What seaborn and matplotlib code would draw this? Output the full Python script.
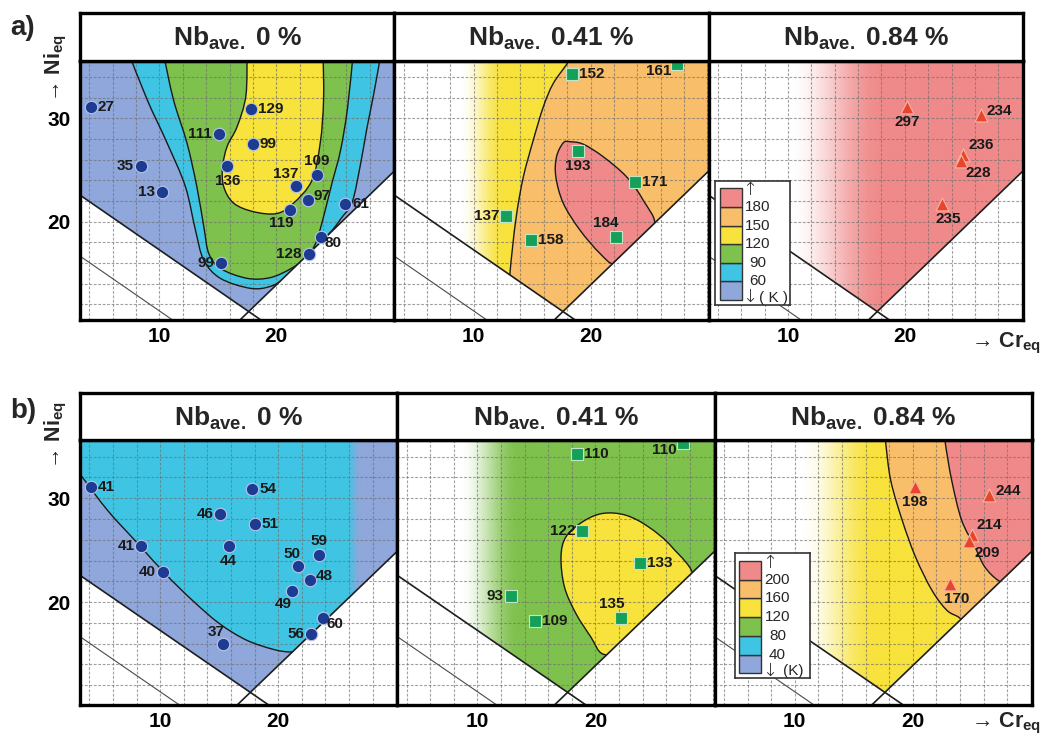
import numpy as np
import matplotlib
matplotlib.use("Agg")
import matplotlib.pyplot as plt
import seaborn as sns
from matplotlib.path import Path
from matplotlib.patches import PathPatch, Polygon
from matplotlib.ticker import MultipleLocator
from matplotlib.colors import to_rgb

sns.set_style("white")
plt.rcParams["font.family"] = ["Liberation Sans", "DejaVu Sans"]
plt.rcParams["mathtext.fontset"] = "custom"
plt.rcParams["mathtext.rm"] = "Liberation Sans"
plt.rcParams["mathtext.bf"] = "Liberation Sans:bold"
plt.rcParams["mathtext.it"] = "Liberation Sans:italic"

# ---------------- data ----------------
titles = [r"Nb$_{\mathbf{ave.}}$ 0 %", r"Nb$_{\mathbf{ave.}}$ 0.41 %", r"Nb$_{\mathbf{ave.}}$ 0.84 %"]
xtick_vals = [10, 20]
ytick_vals = [20, 30]

# alloy compositions (Cr_eq, Ni_eq) for each Nb level
cr_nb0 = [4.1, 8.4, 10.2, 15.1, 17.8, 18.0, 15.8, 21.7, 23.5, 22.7, 21.2, 25.9, 23.8, 22.8, 15.3]
ni_nb0 = [31.1, 25.4, 22.9, 28.5, 30.9, 27.5, 25.4, 23.5, 24.5, 22.1, 21.1, 21.7, 18.5, 16.9, 16.0]
cr_nb041 = [18.4, 27.4, 18.9, 23.8, 12.8, 14.9, 22.2]
ni_nb041 = [34.3, 35.3, 26.8, 23.8, 20.6, 18.2, 18.5]
cr_nb084 = [20.2, 26.5, 25.0, 24.8, 23.2]
ni_nb084 = [31.1, 30.3, 26.5, 25.9, 21.7]

# temperatures (K) written next to the points, a) and b)
temp_a_nb0 = [27, 35, 13, 111, 129, 99, 136, 137, 109, 97, 119, 61, 80, 128, 99]
temp_b_nb0 = [41, 41, 40, 46, 54, 51, 44, 50, 59, 48, 49, None, 60, 56, 37]
temp_a_nb041 = [152, 161, 193, 171, 137, 158, 184]
temp_b_nb041 = [110, 110, 122, 133, 93, 109, 135]
temp_a_nb084 = [297, 234, 236, 228, 235]
temp_b_nb084 = [198, 244, 214, 209, 170]

# colour scale levels (K), top to bottom
levels_a = [180, 150, 120, 90, 60]
levels_b = [200, 160, 120, 80, 40]

# straight phase boundaries: point on line and slope
line_x0 = [3.3, 3.3, 17.35]
line_y0 = [22.5, 16.6, 11.0]
line_slope = [-0.78, -0.78, 1.09]

# contour outlines (Cr_eq, Ni_eq)
cyan_a0 = [(7.3, 36.5), (8.95, 31.8), (10.66, 27.6), (12.22, 23.4), (13.08, 19.2), (13.79, 16.3),
           (15.21, 14.53), (17.78, 13.56), (19.5, 13.75), (20.8, 14.6), (22.2, 16.1), (23.5, 17.6),
           (24.8, 19.2), (25.6, 20.4), (26.5, 21.9), (27.2, 25.5), (27.75, 29.0), (28.3, 32.1), (29.0, 36.5)]
green_a0 = [(10.3, 36.5), (11.2, 31.8), (12.36, 27.6), (13.2, 23.4), (13.8, 19.5), (14.22, 16.94),
            (15.21, 15.49), (17.49, 14.53), (19.5, 14.6), (21.3, 15.5), (22.6, 16.6), (23.4, 18.0),
            (24.05, 20.5), (24.76, 23.7), (25.5, 26.9), (26.1, 31.0), (26.6, 36.5)]
yellow_a0 = [(17.5, 36.5), (17.4, 32.2), (16.65, 29.2), (15.8, 27.3), (15.4, 25.3), (15.5, 23.4),
             (16.35, 21.8), (18.06, 20.97), (20.06, 20.8), (21.48, 21.8), (23.05, 24.0), (23.76, 27.6),
             (24.05, 31.8), (24.0, 36.5)]
orange_a41 = [(18.3, 36.5), (18.09, 35.47), (16.81, 33.38), (15.96, 31.12), (15.1, 27.9), (14.25, 24.35),
              (13.68, 20.8), (13.33, 17.58), (13.1, 15.0), (13.0, 13.5)]
red_a41 = [(17.67, 27.64), (17.09, 26.29), (17.03, 24.35), (17.67, 21.78), (19.09, 19.2), (20.8, 16.94),
           (22.08, 15.9), (23.8, 17.0), (25.5, 19.6), (24.5, 22.1), (23.08, 24.35), (21.08, 26.29),
           (19.38, 27.5), (18.23, 27.74)]
cyan_b0 = [(2.5, 33.3), (3.08, 32.5), (5.52, 28.85), (8.1, 25.64), (10.4, 22.76), (12.7, 20.2),
           (15.0, 17.95), (17.3, 16.35), (19.6, 15.45), (21.0, 15.2), (22.5, 15.3)]
yellow_b41 = [(20.59, 28.53), (18.9, 27.72), (17.5, 26.28), (17.08, 24.36), (17.37, 21.47), (18.34, 18.91),
              (19.6, 16.66), (20.64, 15.0), (22.5, 15.5), (26.0, 19.5), (28.3, 22.3), (26.47, 25.32),
              (24.5, 27.24), (22.55, 28.37)]
orange_b84 = [(17.6, 36.5), (17.7, 35.4), (18.13, 31.73), (19.1, 27.9), (20.23, 24.36), (21.62, 21.15),
              (22.88, 19.23), (23.92, 18.53), (25.0, 17.5)]
red_b84 = [(22.7, 36.5), (22.75, 35.4), (23.3, 31.73), (24.14, 27.9), (25.27, 25.32), (26.1, 23.4),
           (27.23, 22.1), (28.5, 21.5)]

# ---------------- styling ----------------
BLUE, CYAN, GREEN = "#8fa7da", "#3fc5e3", "#7fc14d"
YELLOW, ORANGE, RED = "#f8e23c", "#f9be6a", "#f08a8a"
scale_colors = [BLUE, CYAN, GREEN, YELLOW, ORANGE, RED]   # bottom to top
XLIM = (3.2, 30.1)
TOP = []
RIGHT = [(31, 5), (31, 36.5)]

place = {
    "r": (7, 0, "left", "center"), "l": (-7, 0, "right", "center"),
    "lb": (-6, -7, "right", "center"),
    "b": (0, -8, "center", "top"), "b2": (6, -8, "center", "top"),
    "t": (0, 7, "center", "bottom"), "tc": (-10, 7, "center", "bottom"),
    "tl": (2, 5, "right", "bottom"), "tr": (5, 3, "left", "bottom"),
    "rb": (5, -5, "left", "top"), "r2": (6, 4, "left", "center"),
    "bl": (-9, -6, "center", "top"), "br": (4, -6, "left", "center"),
}
place_nb0_a = ["r", "l", "l", "l", "r", "r", "b", "tl", "t", "r2", "bl", "r", "br", "l", "l"]
place_nb0_b = ["r", "l", "l", "l", "r", "r", "b", "tl", "t", "r2", "bl", "r", "br", "l", "tl"]
place_nb041_a = ["r", "lb", "b", "r", "l", "r", "tc"]
place_nb041_b = ["r", "lb", "l", "r", "l", "r", "tc"]
place_nb084 = ["b", "r2", "tr", "rb", "b2"]


def smooth(pts, closed=False):
    pts = np.asarray(pts, float)
    n = len(pts)
    if closed:
        P = np.vstack([pts[-1], pts, pts[0], pts[1]])
        rng = range(1, n + 1)
    else:
        P = np.vstack([pts[0], pts, pts[-1]])
        rng = range(1, n)
    verts, codes = [P[1]], [Path.MOVETO]
    for i in rng:
        p0, p1, p2, p3 = P[i - 1], P[i], P[i + 1], P[i + 2]
        verts += [p1 + (p2 - p0) / 6, p2 - (p3 - p1) / 6, p2]
        codes += [Path.CURVE4] * 3
    if closed:
        verts.append(P[1])
        codes.append(Path.CLOSEPOLY)
    return Path(verts, codes)


def region(pts, corners):
    p = smooth(pts)
    verts = list(p.vertices) + list(corners) + [p.vertices[0]]
    codes = list(p.codes) + [Path.LINETO] * len(corners) + [Path.CLOSEPOLY]
    return Path(verts, codes)


def v_vertices():
    xa, xc = line_x0[0], line_x0[2]
    ya, yc = line_y0[0], line_y0[2]
    sa, sc = line_slope[0], line_slope[2]
    xi = (yc - sc * xc - ya + sa * xa) / (sa - sc)
    yi = ya + sa * (xi - xa)
    return [(0, ya + sa * (0 - xa)), (xi, yi), (40, yc + sc * (40 - xc)), (40, 40), (0, 40)]


def draw_layers(ax, layers, ylim):
    vclip = Polygon(v_vertices(), closed=True, transform=ax.transData)
    k = 0
    for lay in layers:
        kind, col = lay[0], lay[1]
        k += 1
        if kind == "v":
            ax.add_patch(Polygon(v_vertices(), closed=True, fc=col, ec="none", zorder=1))
        elif kind == "fade":
            xs = np.linspace(XLIM[0], XLIM[1], 500)
            t = np.clip((xs - lay[2]) / (lay[3] - lay[2]), 0, 1)
            rgba = np.zeros((2, xs.size, 4))
            rgba[..., :3] = to_rgb(col)
            rgba[..., 3] = t * t * (3 - 2 * t)
            im = ax.imshow(rgba, extent=(XLIM[0], XLIM[1], ylim[0], ylim[1]), origin="lower",
                           aspect="auto", interpolation="bilinear", zorder=1 + 0.01 * k)
            im.set_clip_path(vclip)
        else:
            if kind == "open":
                fill_path, edge_path = region(lay[2], lay[3]), smooth(lay[2])
            else:
                fill_path = edge_path = smooth(lay[2], closed=True)
            fp = ax.add_patch(PathPatch(fill_path, fc=col, ec="none", zorder=1 + 0.01 * k))
            fp.set_clip_path(vclip)
            ep = ax.add_patch(PathPatch(edge_path, fc="none", ec="#1a1a1a", lw=1.0, zorder=2.6))
            ep.set_clip_path(vclip)
    ax.set_xlim(*XLIM)
    ax.set_ylim(*ylim)


def draw_points(ax, cr, ni, temps, places, marker, color, edge, size):
    keep = [i for i, v in enumerate(temps) if v is not None]
    sns.scatterplot(x=[cr[i] for i in keep], y=[ni[i] for i in keep], marker=marker, s=size,
                    color=color, edgecolor=edge, linewidth=0.8, ax=ax, zorder=4, legend=False)
    for i in keep:
        dx, dy, ha, va = place[places[i]]
        ax.annotate(str(temps[i]), (cr[i], ni[i]), xytext=(dx, dy), textcoords="offset pixels",
                    ha=ha, va=va, fontsize=11, fontweight="bold", color="#1a1a1a", zorder=5)


def draw_legend(ax, rect, levels, unit):
    lg = ax.inset_axes(rect)
    lg.set_facecolor("white")
    lg.bar([0.21] * 6, [1] * 6, bottom=list(range(6)), width=0.29, color=scale_colors,
           edgecolor="#333333", linewidth=1.0)
    for i, lv in enumerate(levels):
        lg.text(0.57, 5 - i, str(lv), ha="center", va="center", fontsize=11)
    lg.text(0.36, 5.9, "\u2191", ha="left", va="center", fontsize=13,
            family=["DejaVu Sans"], fontweight="light")
    lg.text(0.36, 0.15, "\u2193", ha="left", va="center", fontsize=13,
            family=["DejaVu Sans"], fontweight="light")
    lg.text(0.78, 0.12, unit, ha="center", va="center", fontsize=11)
    lg.set_xlim(0, 1)
    lg.set_ylim(-0.27, 6.4)
    lg.set_xticks([])
    lg.set_yticks([])
    for s in lg.spines.values():
        s.set_linewidth(1.2)
        s.set_color("#333333")
    lg.set_zorder(6)


fig = plt.figure(figsize=(10.42, 7.40), dpi=100)

rows = [
    dict(tag="a)", tag_y=0.962, ni_y=0.908, cr_y=0.536, width=0.3016, plot=(0.5676, 0.35),
         title=(0.9176, 0.0649), ylim=(10.5, 35.55),
         layers=[[("v", BLUE), ("open", CYAN, cyan_a0, TOP), ("open", GREEN, green_a0, TOP),
                  ("open", YELLOW, yellow_a0, TOP)],
                 [("fade", YELLOW, 8.8, 12.6), ("open", ORANGE, orange_a41, RIGHT),
                  ("closed", RED, red_a41)],
                 [("fade", RED, 10.0, 18.0)]],
         temps=[temp_a_nb0, temp_a_nb041, temp_a_nb084],
         places=[place_nb0_a, place_nb041_a, place_nb084],
         levels=levels_a, unit="( K )", leg=[0.022, 0.058, 0.236, 0.479]),
    dict(tag="b)", tag_y=0.4446, ni_y=0.412, cr_y=0.022, width=0.3045, plot=(0.0473, 0.3581),
         title=(0.4054, 0.0635), ylim=(10.1, 35.6),
         layers=[[("v", BLUE), ("open", CYAN, cyan_b0, [(31, 14), (31, 36.5), (2.5, 36.5)]),
                  ("fade", BLUE, 25.7, 27.0)],
                 [("fade", GREEN, 8.5, 13.5), ("closed", YELLOW, yellow_b41)],
                 [("fade", YELLOW, 10.4, 16.8), ("open", ORANGE, orange_b84, RIGHT),
                  ("open", RED, red_b84, RIGHT)]],
         temps=[temp_b_nb0, temp_b_nb041, temp_b_nb084],
         places=[place_nb0_b, place_nb041_b, place_nb084],
         levels=levels_b, unit="(K)", leg=[0.063, 0.10, 0.237, 0.472]),
]

cr_sets = [cr_nb0, cr_nb041, cr_nb084]
ni_sets = [ni_nb0, ni_nb041, ni_nb084]
marker_style = [("o", "#1d3c91", "#b7c5ea", 80), ("s", "#15a05a", "#bfe6c8", 70),
                ("^", "#e8462c", "#f7b4a4", 85)]

left0 = 80 / 1042
for row in rows:
    w = row["width"]
    for j in range(3):
        x0 = left0 + j * w
        ax = fig.add_axes([x0, row["plot"][0], w, row["plot"][1]])
        ax.set_facecolor("white")
        draw_layers(ax, row["layers"][j], row["ylim"])

        for xl, yl, sl, lw, lc in zip(line_x0, line_y0, line_slope, [1.2, 0.8, 1.2],
                                      ["#1e1e1e", "#4a4a4a", "#1e1e1e"]):
            ax.axline((xl, yl), slope=sl, color=lc, lw=lw, zorder=2.7)

        mk, mc, me, ms = marker_style[j]
        draw_points(ax, cr_sets[j], ni_sets[j], row["temps"][j], row["places"][j], mk, mc, me, ms)

        ax.xaxis.set_minor_locator(MultipleLocator(2))
        ax.yaxis.set_minor_locator(MultipleLocator(2))
        ax.grid(True, which="both", color="#6e6e6e", alpha=0.65, lw=0.8, ls=(0, (2.5, 1.5)))
        ax.set_axisbelow(False)
        ax.set_xticks(xtick_vals)
        ax.set_yticks(ytick_vals)
        ax.set_xticklabels([str(v) for v in xtick_vals], fontweight="bold")
        ax.set_yticklabels([str(v) for v in ytick_vals], fontweight="bold")
        ax.tick_params(which="major", direction="in", length=6, width=2, labelsize=15,
                       pad=5, top=False, right=False, colors="black")
        ax.tick_params(axis="y", pad=7)
        ax.tick_params(which="minor", length=0)
        if j > 0:
            ax.tick_params(labelleft=False)
        ax.set_xlim(*XLIM)
        ax.set_ylim(*row["ylim"])
        for s in ax.spines.values():
            s.set_linewidth(2.4)
            s.set_color("black")
            s.set_zorder(7)

        if j == 2:
            draw_legend(ax, row["leg"], row["levels"], row["unit"])

        tax = fig.add_axes([x0, row["title"][0], w, row["title"][1]])
        tax.set_xticks([])
        tax.set_yticks([])
        for s in tax.spines.values():
            s.set_linewidth(2.4)
            s.set_color("black")
        tax.text(0.5, 0.47, titles[j], ha="center", va="center", fontsize=19, fontweight="bold")

    fig.text(0.022, row["tag_y"], row["tag"], ha="center", va="center", fontsize=20, fontweight="bold")
    fig.text(0.054, row["ni_y"], "\u2192 Ni$_{\\mathbf{eq}}$", rotation=90, ha="center", va="center",
             fontsize=15.5, fontweight="bold")
    fig.text(0.999, row["cr_y"], "\u2192 Cr$_{\\mathbf{eq}}$", ha="right", va="center",
             fontsize=15.5, fontweight="bold")

fig.savefig("out.png", dpi=100, facecolor="white")
